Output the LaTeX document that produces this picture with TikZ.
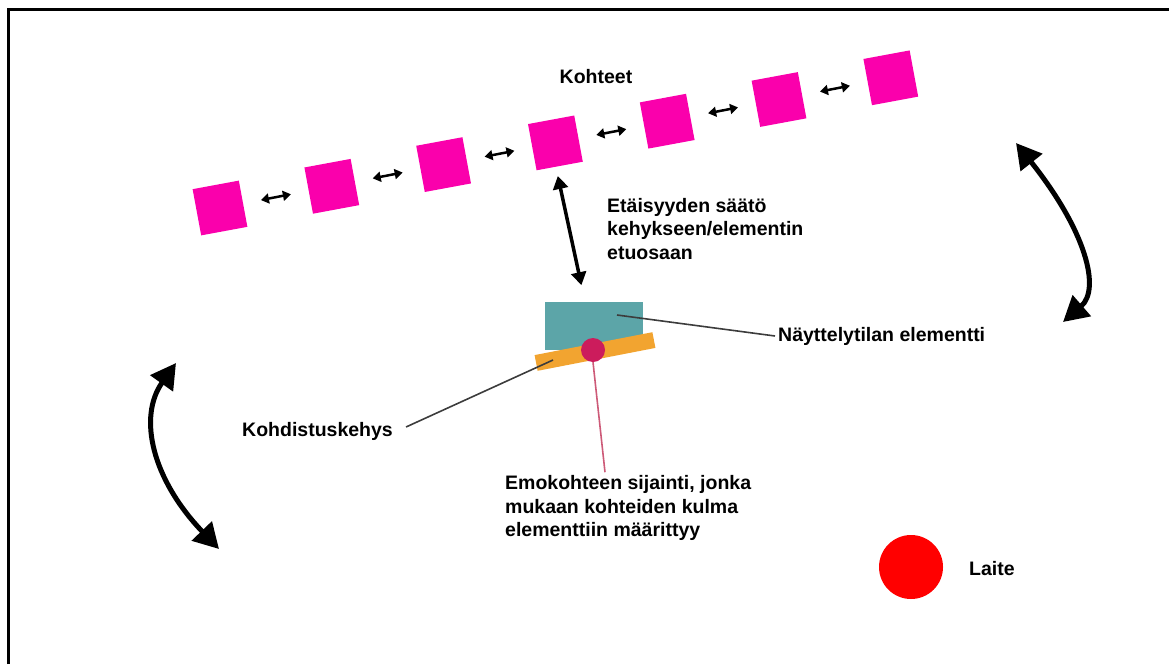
\documentclass[tikz,border=0pt]{standalone}
\usepackage{fontspec}
\setmainfont{Liberation Sans}
\usetikzlibrary{arrows.meta,calc}
\definecolor{targetpink}{RGB}{250,0,172}
\definecolor{elemteal}{RGB}{92,165,168}
\definecolor{frameorange}{RGB}{242,164,48}
\definecolor{pincrimson}{RGB}{204,28,92}
\definecolor{pinline}{RGB}{205,90,120}
\definecolor{leader}{RGB}{60,60,60}
\begin{document}
\begin{tikzpicture}[x=1pt,y=-1pt,
  lbl/.style={font=\fontsize{19.5}{23.5}\selectfont\bfseries, align=left, inner sep=0pt, anchor=west},
  sq/.style={fill=targetpink, minimum size=47, inner sep=0pt, rotate=10.5},
  small/.style={line width=2.5pt, {Triangle[length=8,width=10]}-{Triangle[length=8,width=10]}, shorten <=18pt, shorten >=18pt},
  mid/.style={line width=3.5pt, {Triangle[length=13,width=15]}-{Triangle[length=13,width=15]}},
  big/.style={line width=5pt, {Triangle[length=25,width=27]}-{Triangle[length=25,width=27]}},
  lead/.style={line width=1.6pt, leader}
]
\useasboundingbox (0,0) rectangle (1169,664);
% frame lines along the left and top edge
\draw[line width=3pt] (8,664) -- (8,9.5) -- (1169,9.5);

% row of targets with spacing arrows
\foreach \i in {1,...,7}
  \node[sq] (s\i) at ({220+(\i-1)*111.8},{208-(\i-1)*21.7}) {};
\foreach \i [evaluate=\i as \j using int(\i+1)] in {1,...,6}
  \draw[small] (s\i) -- (s\j);
\node[lbl, anchor=center] (kohteet) at (596,77) {Kohteet};

% exhibition element, alignment frame and parent-target pin
\node[fill=elemteal, minimum width=98, minimum height=48, inner sep=0pt] (elem) at (594,326) {};
\node[fill=frameorange, minimum width=120, minimum height=16, inner sep=0pt, rotate=11] (frame) at (595,351.5) {};
\node[circle, fill=pincrimson, minimum size=24, inner sep=0pt] (pin) at (593,350) {};

% distance adjustment
\draw[mid, shorten <=10pt, shorten >=17pt] ([xshift=-4pt]s4.south) -- ([xshift=-9pt]elem.north);
\node[lbl] (etai) at (607,229) {Etäisyyden säätö\\kehykseen/elementin\\etuosaan};

% labels
\node[lbl] (nayt) at (778,336) {Näyttelytilan elementti};
\node[lbl] (kohd) at (242,431) {Kohdistuskehys};
\node[lbl] (emo) at (505,508) {Emokohteen sijainti, jonka\\mukaan kohteiden kulma\\elementtiin määrittyy};
\node[circle, fill=red, minimum size=64, inner sep=0pt] (dev) at (911,567) {};
\node[lbl] (laite) at (969,569) {Laite};

% leader lines
\draw[lead] ([shift={(23,-11)}]elem.center) -- ([xshift=-3pt]nayt.west);
\draw[lead] ([shift={(-42,8.5)}]frame.center) -- ([shift={(13,-4)}]kohd.east);
\draw[line width=1.6pt, pinline] (pin.south) -- ([xshift=100pt, yshift=3pt]emo.north west);

% rotation arrows
\coordinate (ra1) at (1016,143);
\coordinate (ra2) at (1063,322);
\draw[big] (ra1) .. controls (1086,231) and (1101,289) .. (ra2);
\coordinate (la1) at (176,363);
\coordinate (la2) at (219,549);
\draw[big] (la1) .. controls (137.7,417) and (152,479) .. (la2);
\end{tikzpicture}
\end{document}
